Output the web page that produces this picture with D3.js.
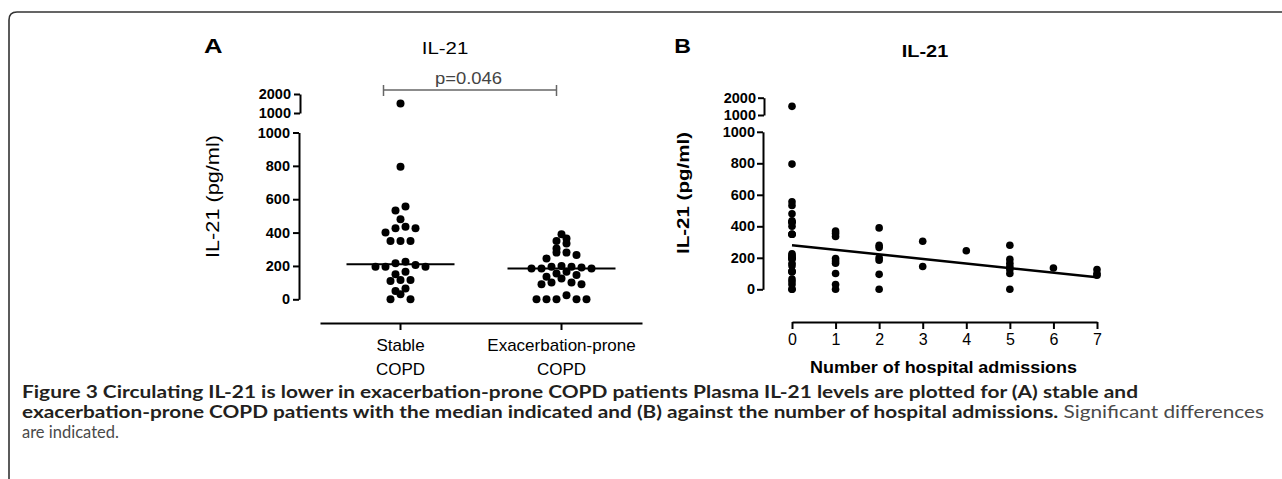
<!DOCTYPE html>
<html><head><meta charset="utf-8">
<script src="https://cdn.jsdelivr.net/npm/d3@7"></script>
<style>
html,body{margin:0;padding:0;background:#fff;}
svg{display:block;}
</style></head><body>
<svg id="c" width="1282" height="479"></svg>
<script>
// ---------- DATA ----------
const categories = ["Stable COPD", "Exacerbation-prone COPD"];
const categoryLines = [["Stable", "COPD"], ["Exacerbation-prone", "COPD"]];
const stableValues = [0, 0, 30, 50, 65, 110, 115, 115, 150, 165, 195, 195, 195, 205, 216, 225,
  350, 350, 350, 400, 426, 426, 435, 480, 532, 556, 795, 1500];
const exacValues = [0, 0, 0, 0, 0, 25, 90, 90, 100, 100, 125, 135, 145, 155, 165, 185, 185, 185,
  190, 195, 195, 200, 245, 265, 280, 280, 305, 335, 350, 365, 390];
const pLabel = "p=0.046";
const yTicksLower = [0, 200, 400, 600, 800, 1000];
const yTicksUpper = [1000, 2000];
const admissionTicks = [0, 1, 2, 3, 4, 5, 6, 7];
const admissionValues = [
  stableValues,
  [370, 355, 335, 195, 180, 165, 100, 30, 0],
  [390, 280, 265, 200, 185, 95, 0],
  [305, 145],
  [245],
  [280, 190, 165, 145, 125, 100, 0],
  [135],
  [125, 100, 90]
];
const fitIntercept = 280;
const fitSlope = -29;
const titleA = "IL-21", titleB = "IL-21";
const yTitle = "IL-21 (pg/ml)";
const xTitleB = "Number of hospital admissions";
const captionLine1 = "Figure 3 Circulating IL-21 is lower in exacerbation-prone COPD patients Plasma IL-21 levels are plotted for (A) stable and";
const captionLine2Bold = "exacerbation-prone COPD patients with the median indicated and (B) against the number of hospital admissions.";
const captionLine2Reg = " Significant differences";
const captionLine3 = "are indicated.";

// ---------- SETUP ----------
const svg = d3.select("#c");
const FONT = "'Liberation Sans', Arial, Helvetica, sans-serif";
const CAPFONT = "Lato, 'Open Sans', sans-serif";

svg.append("path")
  .attr("d", "M1282,12 H17 Q9,12 9,20 V479")
  .attr("fill", "none").attr("stroke", "#333").attr("stroke-width", 1.6);

function styleAxis(g, bold, size) {
  g.selectAll(".domain").attr("stroke", "#000").attr("stroke-width", 2);
  g.selectAll(".tick line").attr("stroke", "#000").attr("stroke-width", 2);
  g.selectAll(".tick text").attr("font-family", FONT).attr("font-size", size)
    .attr("font-weight", bold ? "bold" : "normal").attr("fill", "#000");
}

// row-based scatter layout (points with close values sit side by side, centred)
function rowLayout(values, cx, yfn, step, thresh) {
  const sorted = values.slice().sort((a, b) => a - b);
  const rows = [];
  sorted.forEach(v => {
    const last = rows[rows.length - 1];
    if (last && Math.abs(yfn(last[0]) - yfn(v)) <= thresh) last.push(v);
    else rows.push([v]);
  });
  const pts = [];
  rows.forEach(row => {
    const n = row.length;
    const slots = d3.range(n).map(i => (i - (n - 1) / 2) * step)
      .sort((a, b) => Math.abs(b) - Math.abs(a) || a - b);
    row.forEach((v, i) => pts.push({ x: cx + slots[i], y: yfn(v), v }));
  });
  return pts;
}

// ---------- PANEL A ----------
const gA = svg.append("g");
const xA = d3.scaleBand().domain(categories).range([320, 642]);
const yAlow = d3.scaleLinear().domain([0, 1000]).range([299.3, 132.5]);
const yAup = d3.scaleLinear().domain([1000, 2000]).range([113, 94]);
const yA = v => v <= 1000 ? yAlow(v) : yAup(v);

const axAl = gA.append("g").attr("transform", "translate(299,0)")
  .call(d3.axisLeft(yAlow).tickValues(yTicksLower).tickFormat(d3.format("d")).tickSize(6).tickSizeOuter(0).tickPadding(3));
styleAxis(axAl, true, 14.5);
const axAu = gA.append("g").attr("transform", "translate(300,0)")
  .call(d3.axisLeft(yAup).tickValues(yTicksUpper).tickFormat(d3.format("d")).tickSize(6).tickSizeOuter(0).tickPadding(3));
styleAxis(axAu, true, 14.5);

const axAx = gA.append("g").attr("transform", "translate(0,323)")
  .call(d3.axisBottom(xA).tickSize(7).tickSizeOuter(0));
styleAxis(axAx, false, 17);
axAx.selectAll(".tick text").remove();
categories.forEach((c, i) => {
  const cx = xA(c) + xA.bandwidth() / 2;
  const t = gA.append("text").attr("x", cx).attr("y", 351)
    .attr("text-anchor", "middle").attr("font-family", FONT).attr("font-size", 17).attr("fill", "#000");
  categoryLines[i].forEach((ln, j) => {
    t.append("tspan").attr("x", cx).attr("dy", j === 0 ? 0 : 24).text(ln);
  });
});

[stableValues, exacValues].forEach((vals, i) => {
  const cx = xA(categories[i]) + xA.bandwidth() / 2;
  const pts = rowLayout(vals, cx, yA, 10, 6);
  gA.append("g").selectAll("circle").data(pts).join("circle")
    .attr("cx", d => d.x).attr("cy", d => d.y).attr("r", 4).attr("fill", "#000");
  const med = d3.median(vals);
  gA.append("line").attr("x1", cx - 54).attr("x2", cx + 54)
    .attr("y1", yA(med)).attr("y2", yA(med)).attr("stroke", "#000").attr("stroke-width", 2);
});

// p bracket
const px1 = xA(categories[0]) + xA.bandwidth() / 2 - 17;
const px2 = xA(categories[1]) + xA.bandwidth() / 2 - 5;
const pb = gA.append("g").attr("stroke", "#666").attr("stroke-width", 1.5);
pb.append("line").attr("x1", px1).attr("x2", px2).attr("y1", 90).attr("y2", 90);
pb.append("line").attr("x1", px1).attr("x2", px1).attr("y1", 85).attr("y2", 96);
pb.append("line").attr("x1", px2).attr("x2", px2).attr("y1", 85).attr("y2", 96);
gA.append("text").attr("x", 468.5).attr("y", 84).attr("text-anchor", "middle")
  .attr("font-family", FONT).attr("font-size", 16).attr("fill", "#444")
  .attr("textLength", 67).attr("lengthAdjust", "spacingAndGlyphs").text(pLabel);

gA.append("text").attr("x", 204).attr("y", 52.7).attr("font-family", FONT).attr("font-size", 21)
  .attr("font-weight", "bold").attr("textLength", 18.5).attr("lengthAdjust", "spacingAndGlyphs").text("A");
gA.append("text").attr("x", 445).attr("y", 53.5).attr("text-anchor", "middle").attr("font-family", FONT)
  .attr("font-size", 16).attr("textLength", 46.5).attr("lengthAdjust", "spacingAndGlyphs").text(titleA);
gA.append("text").attr("transform", "translate(213,196.5) rotate(-90)").attr("dy", "0.35em")
  .attr("text-anchor", "middle").attr("font-family", FONT).attr("font-size", 18)
  .attr("textLength", 123).attr("lengthAdjust", "spacingAndGlyphs").text(yTitle);

// ---------- PANEL B ----------
const gB = svg.append("g");
const xB = d3.scaleLinear().domain([0, 7]).range([792, 1097]);
const yBlow = d3.scaleLinear().domain([0, 1000]).range([289.3, 131.8]);
const yBup = d3.scaleLinear().domain([1000, 2000]).range([115, 97.7]);
const yB = v => v <= 1000 ? yBlow(v) : yBup(v);

const axBl = gB.append("g").attr("transform", "translate(763,0)")
  .call(d3.axisLeft(yBlow).tickValues(yTicksLower).tickFormat(d3.format("d")).tickSize(6).tickSizeOuter(0).tickPadding(2));
styleAxis(axBl, true, 14.5);
const axBu = gB.append("g").attr("transform", "translate(764,0)")
  .call(d3.axisLeft(yBup).tickValues(yTicksUpper).tickFormat(d3.format("d")).tickSize(6).tickSizeOuter(0).tickPadding(2));
styleAxis(axBu, true, 14.5);
const axBx = gB.append("g").attr("transform", "translate(0,322)")
  .call(d3.axisBottom(xB).tickValues(admissionTicks).tickFormat(d3.format("d")).tickSize(7).tickSizeOuter(0).tickPadding(5));
styleAxis(axBx, false, 16);

const bPts = [];
admissionValues.forEach((vals, i) => vals.forEach(v => bPts.push({ a: admissionTicks[i], v })));
gB.append("g").selectAll("circle").data(bPts).join("circle")
  .attr("cx", d => xB(d.a)).attr("cy", d => yB(d.v)).attr("r", 3.8).attr("fill", "#000");

gB.append("line")
  .attr("x1", xB(0)).attr("y1", yB(fitIntercept))
  .attr("x2", xB(7)).attr("y2", yB(fitIntercept + fitSlope * 7))
  .attr("stroke", "#000").attr("stroke-width", 2.5);

gB.append("text").attr("x", 674.3).attr("y", 52.7).attr("font-family", FONT).attr("font-size", 21)
  .attr("font-weight", "bold").attr("textLength", 16.7).attr("lengthAdjust", "spacingAndGlyphs").text("B");
gB.append("text").attr("x", 925).attr("y", 57.3).attr("text-anchor", "middle").attr("font-family", FONT)
  .attr("font-size", 16.5).attr("font-weight", "bold").attr("textLength", 46.5).attr("lengthAdjust", "spacingAndGlyphs").text(titleB);
gB.append("text").attr("transform", "translate(683,193) rotate(-90)").attr("dy", "0.35em")
  .attr("text-anchor", "middle").attr("font-family", FONT).attr("font-size", 17).attr("font-weight", "bold")
  .attr("textLength", 122).attr("lengthAdjust", "spacingAndGlyphs").text(yTitle);
gB.append("text").attr("x", 943.5).attr("y", 373).attr("text-anchor", "middle")
  .attr("font-family", FONT).attr("font-size", 16).attr("font-weight", "bold")
  .attr("textLength", 267).attr("lengthAdjust", "spacingAndGlyphs").text(xTitleB);

// ---------- CAPTION ----------
const CAPSIZE = 16.5;
const cap = svg.append("g").attr("font-family", CAPFONT).style("font-size", CAPSIZE + "px");
cap.append("text").attr("x", 22).attr("y", 398).attr("font-weight", "bold").attr("fill", "#231f20")
  .attr("textLength", 1116).attr("lengthAdjust", "spacingAndGlyphs").text(captionLine1);
const l2 = cap.append("text").attr("x", 22).attr("y", 418);
const t2b = l2.append("tspan").attr("font-weight", "bold").attr("fill", "#231f20").text(captionLine2Bold);
const t2r = l2.append("tspan").attr("fill", "#4a4a4a").text(captionLine2Reg);
const wb = t2b.node().getComputedTextLength(), wr = t2r.node().getComputedTextLength();
const k2 = 1242 / (wb + wr);
t2b.attr("textLength", wb * k2).attr("lengthAdjust", "spacingAndGlyphs");
t2r.attr("textLength", wr * k2).attr("lengthAdjust", "spacingAndGlyphs");
cap.append("text").attr("x", 22).attr("y", 438).attr("fill", "#4a4a4a").text(captionLine3);
</script>
</body></html>
